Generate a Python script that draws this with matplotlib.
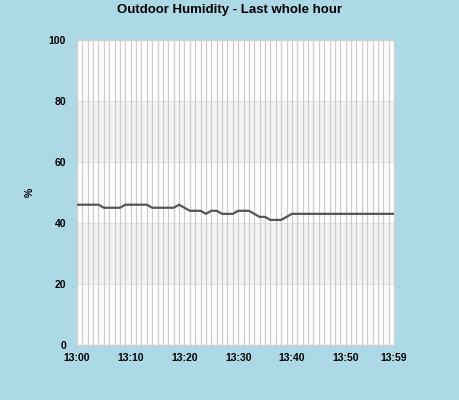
import matplotlib
matplotlib.use("Agg")
import matplotlib.pyplot as plt
import numpy as np

title = "Outdoor Humidity - Last whole hour"
y_label = "%"
minutes = list(range(60))
humidity = [46, 46, 46, 46, 46,
            45, 45, 45, 45,
            46, 46, 46, 46, 46,
            45, 45, 45, 45, 45,
            46, 45,
            44, 44, 44,
            43,
            44, 44,
            43, 43, 43,
            44, 44, 44,
            43,
            42, 42,
            41, 41, 41,
            42] + [43] * 20
x_ticks = [0, 10, 20, 30, 40, 50, 59]
x_tick_labels = ["13:00", "13:10", "13:20", "13:30", "13:40", "13:50", "13:59"]
y_ticks = [0, 20, 40, 60, 80, 100]
bands = [(20, 40), (60, 80)]

bg = "#add8e6"
plt.rcParams['font.family'] = ['Liberation Sans', 'DejaVu Sans']

fig = plt.figure(figsize=(4.6, 4.0), dpi=100, facecolor=bg)
ax = fig.add_axes([77/460, 1-345/400, (394-77)/460, (345-40)/400])
ax.set_facecolor("white")

for lo, hi in bands:
    ax.axhspan(lo, hi, color="#f3f3f3", zorder=0, lw=0)
for yv in y_ticks[1:-1]:
    ax.axhline(yv, color="#e2e2e2", lw=0.8, zorder=0.5)
for m in minutes[1:-1]:
    ax.axvline(m, color="#cccccc", lw=0.9, zorder=1)

ax.plot(minutes, humidity, color="#555555", lw=1.6, zorder=3)

ax.set_xlim(0, 59)
ax.set_ylim(0, 100)
ax.set_xticks(x_ticks)
ax.set_xticklabels(x_tick_labels, fontsize=7.5, fontweight="bold")
ax.set_yticks(y_ticks)
ax.set_yticklabels([str(v) for v in y_ticks], fontsize=7.5, fontweight="bold")
ax.tick_params(axis="x", length=0, pad=6)
ax.tick_params(axis="y", length=0, pad=8)
for s in ax.spines.values():
    s.set_color("#d0d0d0")
    s.set_linewidth(1)

ax.set_ylabel(y_label, fontsize=7.5, fontweight="bold", labelpad=10)
fig.text(0.5, 1-10/400, title, ha="center", va="center", fontsize=9.5, fontweight="bold")

fig.savefig("out.png", dpi=100, facecolor=bg)
